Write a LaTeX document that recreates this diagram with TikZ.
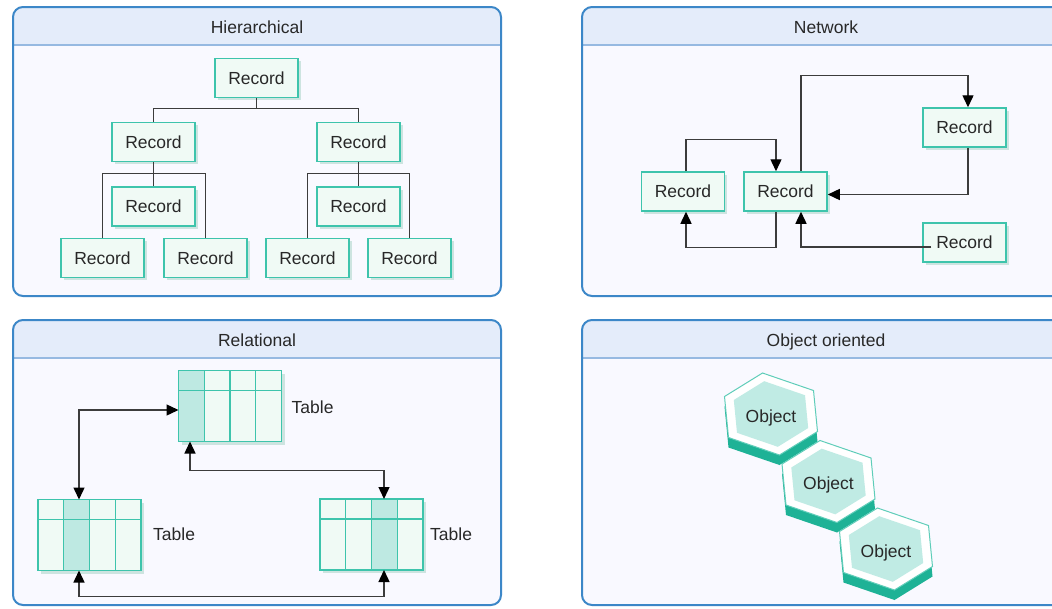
\documentclass[tikz,border=0pt]{standalone}
\usepackage{fontspec}
\setmainfont{Liberation Sans}
\usetikzlibrary{arrows.meta,shadows,calc}

\definecolor{pnlborder}{RGB}{60,135,200}
\definecolor{pnlhead}{RGB}{228,236,250}
\definecolor{pnlbody}{RGB}{249,249,255}
\definecolor{pnlsep}{RGB}{150,185,225}
\definecolor{recfill}{RGB}{240,250,245}
\definecolor{recline}{RGB}{62,196,172}
\definecolor{recshadow}{RGB}{205,228,224}
\definecolor{colshade}{RGB}{190,233,226}
\definecolor{hexdark}{RGB}{30,178,150}
\definecolor{hexline}{RGB}{95,205,185}
\definecolor{hexface}{RGB}{192,235,228}
\definecolor{txt}{RGB}{40,40,40}
\definecolor{wire}{RGB}{60,60,60}

% panel: name, left, top, right, bottom, title
\newcommand\dbpanel[6]{%
  \fill[pnlbody, rounded corners=10pt] (#2,#3) rectangle (#4,#5);
  \fill[pnlhead, rounded corners=10pt] (#2,#3+38) -- (#2,#3) -- (#4,#3) -- (#4,#3+38);
  \draw[pnlsep, line width=1.2pt] (#2,#3+38) -- (#4,#3+38);
  \draw[pnlborder, line width=2pt, rounded corners=10pt] (#2,#3) rectangle (#4,#5);
  \node[anchor=base] (#1) at ({(#2+#4)/2},#3+26) {#6};
}

% table grid inside a table node: node name, shaded column (1..4)
\newcommand\tablegrid[2]{%
  \fill[colshade] ($(#1.north west)+({(#2-1)*25.75},0)$) rectangle ++(25.75,71);
  \foreach \k in {1,2,3}
    \draw[gridline] ($(#1.north west)+({\k*25.75},0)$) -- ++(0,71);
  \draw[gridline] ($(#1.north west)+(0,20)$) -- ++(103,0);
  \draw[gridline] (#1.north west) rectangle (#1.south east);
}

% hexagonal prism with a label: name, x, y
\newcommand\hexprism[3]{%
  \begin{scope}[shift={(#2,#3)}]
    \fill[hexdark, yshift=-10pt, hexp];
    \filldraw[draw=hexline, fill=white, line width=1pt, hexp];
    \fill[hexface, scale=0.8, hexp];
    \node[anchor=base] (#1) at (0,8) {Object};
  \end{scope}
}

\begin{document}
\begin{tikzpicture}[x=1pt,y=-1pt,
  every node/.style={font=\fontsize{17.5}{21}\selectfont, text=txt},
  record/.style={draw=recline, line width=1.5pt, fill=recfill,
    minimum width=83pt, minimum height=39pt, inner sep=0pt,
    drop shadow={shadow xshift=2.5pt, shadow yshift=-2.5pt, fill=recshadow, opacity=1}},
  tbl/.style={draw=recline, line width=1.4pt, fill=recfill,
    minimum width=103pt, minimum height=71pt, inner sep=0pt, outer sep=0pt,
    drop shadow={shadow xshift=3pt, shadow yshift=-3pt, fill=recshadow, opacity=1}},
  gridline/.style={draw=recline, line width=1.4pt},
  wire/.style={draw=wire, line width=1.4pt},
  arr/.style={wire, -{Triangle[length=12pt,width=11pt,color=black]}},
  dbl/.style={wire, {Triangle[length=12pt,width=11pt,color=black]}-{Triangle[length=12pt,width=11pt,color=black]}},
  hexp/.style={insert path={(-8.5,-41) -- (42.5,-23.5) -- (46.5,17.5) -- (8.5,41) -- (-42.5,23.5) -- (-46.5,-17.5) -- cycle}},
]
\clip (0,0) rectangle (1052,608);
\fill[white] (0,0) rectangle (1052,608);

\dbpanel{ph}{13}{7}{501}{296}{Hierarchical}
\dbpanel{pn}{582}{7}{1070}{296}{Network}
\dbpanel{pr}{13}{320}{501}{605}{Relational}
\dbpanel{po}{582}{320}{1070}{605}{Object oriented}

% ---- hierarchical model
\node[record] (h0) at (256.5,78) {Record};
\node[record] (h1) at (153.5,142) {Record};
\node[record] (h2) at (358.5,142) {Record};
\node[record] (h3) at (153.5,206.5) {Record};
\node[record] (h4) at (358.5,206.5) {Record};
\node[record] (h5) at (102.5,258) {Record};
\node[record] (h6) at (205.5,258) {Record};
\node[record] (h7) at (307.5,258) {Record};
\node[record] (h8) at (409.5,258) {Record};

\draw[wire] (h0.south) -- ++(0,10) -| (h1.north);
\draw[wire] (h0.south) -- ++(0,10) -| (h2.north);
\draw[wire] (h1.south) -- (h3.north);
\draw[wire] (h1.south) -- ++(0,11) -| (h5.north);
\draw[wire] (h1.south) -- ++(0,11) -| (h6.north);
\draw[wire] (h2.south) -- (h4.north);
\draw[wire] (h2.south) -- ++(0,11) -| (h7.north);
\draw[wire] (h2.south) -- ++(0,11) -| (h8.north);

% ---- network model
\node[record] (nl) at (683,191.5) {Record};
\node[record] (nm) at (785.5,191.5) {Record};
\node[record] (nt) at (964.5,127.5) {Record};
\node[record] (nb) at (964.5,242.5) {Record};

\draw[arr] ([xshift=3pt]nl.north) -- ++(0,-32) -| ([xshift=-9.5pt]nm.north);
\draw[arr] ([xshift=15.5pt]nm.north) -- ++(0,-96) -| ([xshift=3.5pt]nt.north);
\draw[arr] ([xshift=3.5pt]nt.south) |- ([yshift=-3pt]nm.east);
\draw[arr] ([xshift=-9.5pt]nm.south) -- ++(0,36) -| ([xshift=3pt]nl.south);
\draw[arr] ([xshift=9pt,yshift=-4.5pt]nb.west) -| ([xshift=15.5pt]nm.south);

% ---- relational model
\node[tbl] (t1) at (230,406) {};
\tablegrid{t1}{1}
\node[tbl] (t2) at (89.5,535) {};
\tablegrid{t2}{2}
\node[tbl] (t3) at (371.5,534.5) {};
\tablegrid{t3}{3}

\node[anchor=west, inner sep=0pt] (l1) at ([xshift=10pt,yshift=-1pt]t1.east) {Table};
\node[anchor=west, inner sep=0pt] (l2) at ([xshift=12pt,yshift=1pt]t2.east) {Table};
\node[anchor=west, inner sep=0pt] (l3) at ([xshift=7pt,yshift=0pt]t3.east) {Table};

\draw[dbl] ([xshift=-10.5pt]t2.north) |- ([yshift=-4pt]t1.west);
\draw[dbl] ([xshift=-40pt]t1.south) -- ++(0,29) -| ([xshift=12.5pt]t3.north);
\draw[dbl] ([xshift=-10.5pt]t2.south) -- ++(0,26) -| ([xshift=12.5pt]t3.south);

% ---- object oriented model
\hexprism{o1}{771}{414}
\hexprism{o2}{828.5}{481.5}
\hexprism{o3}{886}{549}
\end{tikzpicture}
\end{document}
